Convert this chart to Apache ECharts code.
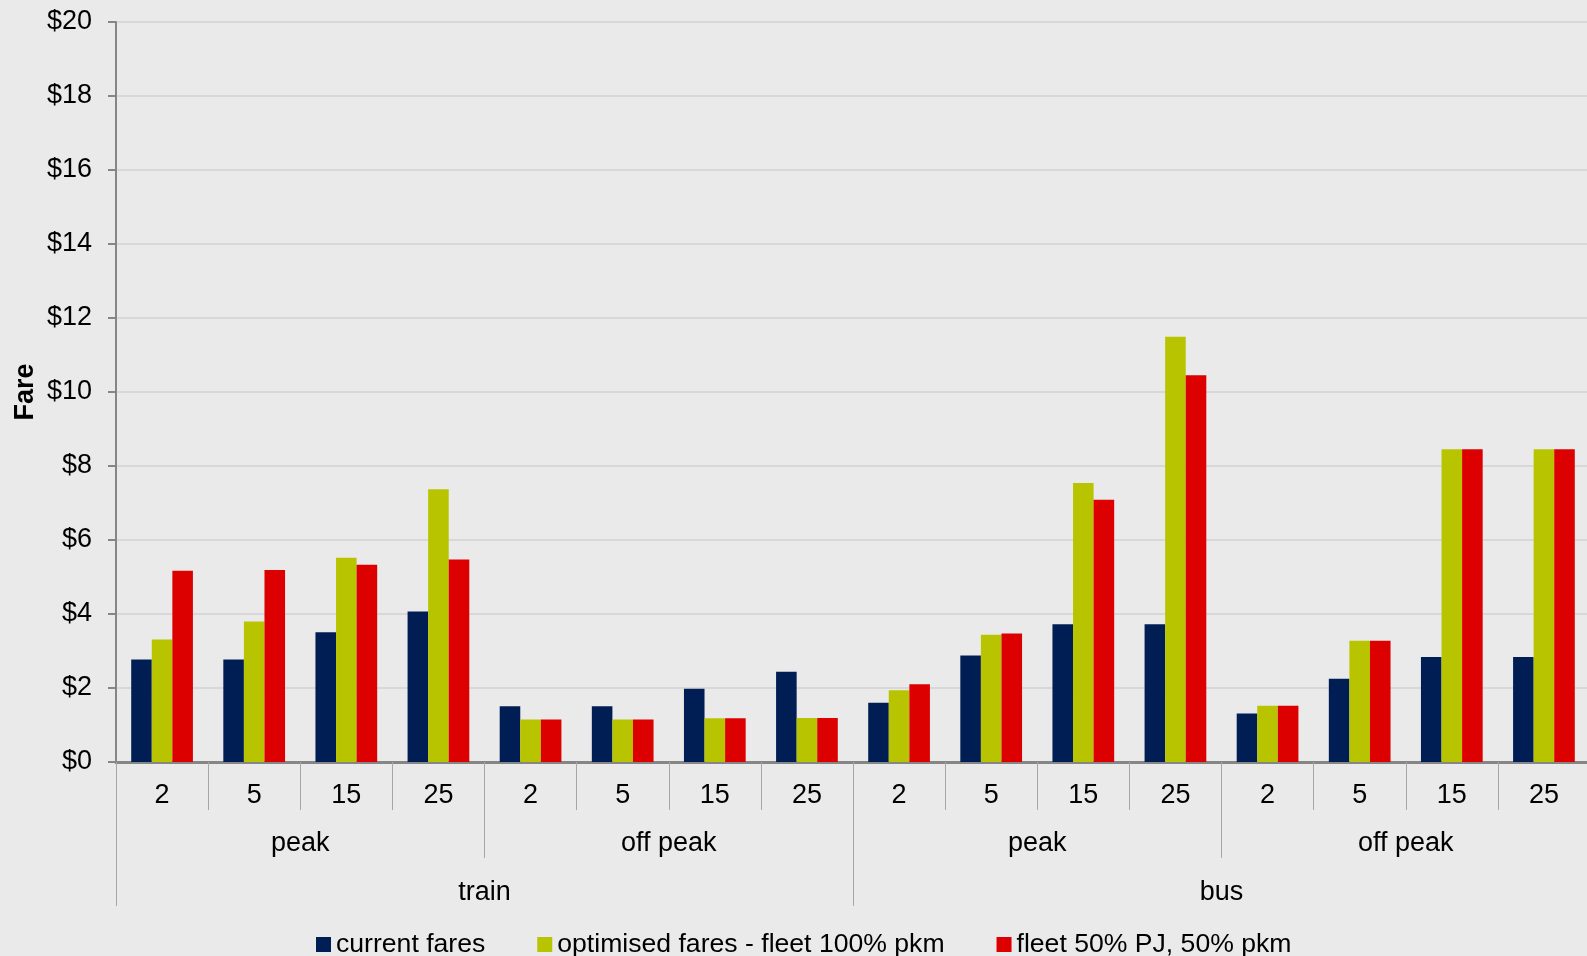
<!DOCTYPE html>
<html>
<head>
<meta charset="utf-8">
<script src="https://cdn.jsdelivr.net/npm/echarts@6/dist/echarts.min.js"></script>
<style>
  html, body { margin: 0; padding: 0; background: #EAEAEA; }
  #chart { width: 1587px; height: 956px; }
</style>
</head>
<body>
<div id="chart"></div>
<script>
// Trip distance (km) within each period/mode group
const distances = ['2', '5', '15', '25', '2', '5', '15', '25', '2', '5', '15', '25', '2', '5', '15', '25'];
const periods = ['peak', 'off peak', 'peak', 'off peak'];
const modes = ['train', 'bus'];

const seriesNames = ['current fares', 'optimised fares - fleet 100% pkm', 'fleet 50% PJ, 50% pkm'];
const currentFares = [2.77, 2.77, 3.51, 4.07, 1.51, 1.51, 1.98, 2.44, 1.60, 2.88, 3.72, 3.72, 1.31, 2.25, 2.84, 2.84];
const optimisedFleet100 = [3.31, 3.80, 5.52, 7.37, 1.15, 1.15, 1.18, 1.19, 1.94, 3.44, 7.54, 11.49, 1.52, 3.28, 8.45, 8.45];
const fleet50PJ50pkm = [5.17, 5.19, 5.33, 5.47, 1.15, 1.15, 1.18, 1.19, 2.10, 3.47, 7.09, 10.45, 1.52, 3.28, 8.45, 8.45];

const colors = ['#001E54', '#B8C400', '#DD0000'];
const font = 'Liberation Sans, Arial, sans-serif';
const fs = 27;

const chart = echarts.init(document.getElementById('chart'), null, { renderer: 'canvas' });

const hiddenLine = { show: false };
const levelTick = (len) => ({ show: true, length: len, interval: 0, lineStyle: { color: '#A6A6A6', width: 1 } });

chart.setOption({
  backgroundColor: '#EAEAEA',
  animation: false,
  color: colors,
  textStyle: { fontFamily: font },
  grid: { left: 116, top: 22, width: 1474, height: 740, containLabel: false, outerBoundsMode: 'none' },
  legend: {
    top: 926,
    left: 311,
    itemWidth: 15,
    itemHeight: 15,
    itemGap: 52,
    icon: 'rect',
    data: seriesNames,
    textStyle: { fontSize: 26.6, color: '#000', fontFamily: font }
  },
  yAxis: {
    type: 'value',
    min: 0,
    max: 20,
    interval: 2,
    name: 'Fare',
    nameLocation: 'middle',
    nameRotate: 90,
    nameGap: 77,
    nameMoveOverlap: false,
    nameTextStyle: { fontSize: fs, fontWeight: 'bold', color: '#000', fontFamily: font },
    axisLine: { show: true, lineStyle: { color: '#868686', width: 2 } },
    axisTick: { show: true, length: 8, lineStyle: { color: '#868686', width: 2 } },
    axisLabel: { formatter: v => '$' + v, fontSize: fs, color: '#000', margin: 24, fontFamily: font },
    splitLine: { show: true, lineStyle: { color: '#D8D8D8', width: 2 } }
  },
  xAxis: [
    {
      type: 'category',
      data: distances,
      position: 'bottom',
      axisLine: { show: true, lineStyle: { color: '#868686', width: 3 } },
      axisTick: { show: true, length: 48, interval: 0, lineStyle: { color: '#A6A6A6', width: 1 } },
      axisLabel: { interval: 0, fontSize: fs, color: '#000', margin: 20, fontFamily: font },
      splitLine: { show: false }
    },
    {
      type: 'category',
      data: periods,
      position: 'bottom',
      axisLine: hiddenLine,
      axisTick: levelTick(96),
      axisLabel: { interval: 0, fontSize: fs, color: '#000', margin: 68, fontFamily: font },
      splitLine: { show: false }
    },
    {
      type: 'category',
      data: modes,
      position: 'bottom',
      axisLine: hiddenLine,
      axisTick: levelTick(144),
      axisLabel: { interval: 0, fontSize: fs, color: '#000', margin: 117, fontFamily: font },
      splitLine: { show: false }
    }
  ],
  series: [
    { name: seriesNames[0], type: 'bar', xAxisIndex: 0, data: currentFares, barGap: '0%', barCategoryGap: '33%' },
    { name: seriesNames[1], type: 'bar', xAxisIndex: 0, data: optimisedFleet100, barGap: '0%', barCategoryGap: '33%' },
    { name: seriesNames[2], type: 'bar', xAxisIndex: 0, data: fleet50PJ50pkm, barGap: '0%', barCategoryGap: '33%' }
  ]
});
</script>
</body>
</html>
